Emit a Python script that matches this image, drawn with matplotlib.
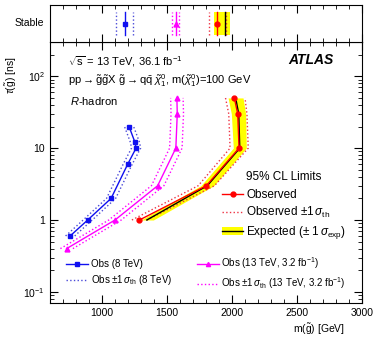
import numpy as np
import matplotlib.pyplot as plt
from matplotlib.lines import Line2D
from matplotlib.patches import Patch
from matplotlib.ticker import MultipleLocator, LogLocator, FixedLocator, FixedFormatter, NullFormatter

plt.rcParams['font.family'] = ['Liberation Sans', 'DejaVu Sans']
plt.rcParams['mathtext.fontset'] = 'custom'
plt.rcParams['mathtext.rm'] = 'Liberation Sans'
plt.rcParams['mathtext.it'] = 'Liberation Sans:italic'
plt.rcParams['mathtext.bf'] = 'Liberation Sans:bold'

# lifetime points [ns] and gluino mass limits [GeV]
tau_8 = [0.6, 1.0, 2.0, 6.0, 10.0, 12.0, 20.0]
m_8 = [755, 890, 1070, 1198, 1262, 1254, 1208]
m_8_dn = [720, 855, 1035, 1163, 1227, 1219, 1173]
m_8_up = [790, 925, 1105, 1233, 1297, 1289, 1243]

tau_13 = [0.4, 1.0, 3.0, 10.0, 30.0, 50.0]
m_13 = [728, 1100, 1428, 1568, 1579, 1576]
m_13_dn = [680, 1052, 1380, 1520, 1531, 1528]
m_13_up = [776, 1148, 1476, 1616, 1627, 1624]

tau_obs = [1.0, 3.0, 10.0, 30.0, 50.0]
m_obs = [1288, 1802, 2054, 2044, 2018]
m_obs_dn = [1230, 1740, 1985, 1975, 1950]
m_obs_up = [1345, 1865, 2125, 2115, 2100]

m_exp = [1345, 1810, 2060, 2052, 2028]
m_exp_dn = [1300, 1760, 2010, 1995, 1970]
m_exp_up = [1395, 1860, 2110, 2105, 2085]

# stable R-hadron limits
stab_8, stab_8_band = 1175, [1110, 1238]
stab_13, stab_13_band = 1567, [1536, 1596]
stab_obs, stab_obs_band = 1887, [1825, 1950]
stab_exp, stab_exp_band = 1946, [1864, 1985]

c_blue = '#1010f0'
c_blue_d = '#4a4ad8'
c_mag = '#ff00ff'
c_red = '#ff0000'
c_red_d = '#ee3344'

fig = plt.figure(figsize=(3.73, 3.38), dpi=100)
ax = fig.add_axes([50/373, 35/338, 312/373, 261/338])
axs = fig.add_axes([50/373, 296/338, 312/373, 37/338])

# main panel
ax.fill_betweenx(tau_obs, m_exp_dn, m_exp_up, color='#ffff00', lw=0, zorder=1)
ax.plot(m_obs_dn, tau_obs, ls=':', color=c_red_d, lw=1, zorder=2)
ax.plot(m_obs_up, tau_obs, ls=':', color=c_red_d, lw=1, zorder=2)
ax.plot(m_exp, tau_obs, color='black', lw=1, zorder=3)
ax.plot(m_obs, tau_obs, color=c_red, lw=1, marker='o', ms=3.5, zorder=4)

ax.plot(m_8_dn, tau_8, ls=':', color=c_blue_d, lw=1)
ax.plot(m_8_up, tau_8, ls=':', color=c_blue_d, lw=1)
ax.plot(m_8, tau_8, color=c_blue, lw=1, marker='s', ms=3.5)

ax.plot(m_13_dn, tau_13, ls=':', color=c_mag, lw=1)
ax.plot(m_13_up, tau_13, ls=':', color=c_mag, lw=1)
ax.plot(m_13, tau_13, color=c_mag, lw=1, marker='^', ms=3.5)

ax.set_yscale('log')
ax.set_xlim(600, 3000)
ax.set_ylim(0.07, 300)
ax.xaxis.set_major_locator(MultipleLocator(500))
ax.xaxis.set_minor_locator(MultipleLocator(100))
ax.yaxis.set_major_locator(FixedLocator([0.1, 1, 10, 100]))
ax.yaxis.set_major_formatter(FixedFormatter([r'$10^{-1}$', '1', '10', r'$10^{2}$']))
ax.yaxis.set_minor_locator(LogLocator(subs=np.arange(2, 10)))
ax.yaxis.set_minor_formatter(NullFormatter())
ax.tick_params(which='both', direction='in', top=True, right=True, labelsize=7.5)
ax.tick_params(which='major', length=6)
ax.tick_params(which='minor', length=3)
ax.set_xlabel(r'm($\tilde{\mathrm{g}}$) [GeV]', loc='right', fontsize=7.5)
ax.set_ylabel(r'$\tau(\tilde{\mathrm{g}})$ [ns]', loc='top', fontsize=7.5)
ax.xaxis.set_label_coords(0.946, -0.072)
ax.yaxis.set_label_coords(-0.10, 0.943)

ax.text(0.057, 0.925, r'$\sqrt{\mathrm{s}}$ = 13 TeV, 36.1 fb$^{-1}$', transform=ax.transAxes, fontsize=8, va='center')
ax.text(0.057, 0.853, r'pp$\rightarrow\tilde{\mathrm{g}}\tilde{\mathrm{g}}$X $\tilde{\mathrm{g}}\rightarrow$q$\bar{\mathrm{q}}$ $\tilde{\chi}^{0}_{1}$, m($\tilde{\chi}^{0}_{1}$)=100 GeV',
        transform=ax.transAxes, fontsize=8, va='center')
ax.text(0.063, 0.775, r'$R$-hadron', transform=ax.transAxes, fontsize=8, va='center')
ax.text(0.765, 0.93, 'ATLAS', transform=ax.transAxes, fontsize=10, fontweight='bold', style='italic', va='center')

ax.text(0.628, 0.483, '95% CL Limits', transform=ax.transAxes, fontsize=8.5, va='center')
h_obs = Line2D([], [], color=c_red, lw=1, marker='o', ms=3.5)
h_obs_b = Line2D([], [], color=c_red_d, lw=1, ls=':')
h_exp = (Patch(color='#ffff00', lw=0), Line2D([], [], color='black', lw=1))
leg1 = ax.legend([h_obs, h_obs_b, h_exp],
                 ['Observed', r'Observed $\pm1\,\sigma_{\mathrm{th}}$', r'Expected ($\pm$ 1$\,\sigma_{\mathrm{exp}}$)'],
                 loc='upper left', bbox_to_anchor=(0.551, 0.436),
                 frameon=False, fontsize=8.5, handlelength=1.8, borderpad=0,
                 handletextpad=0.25, labelspacing=0.33, borderaxespad=0)
ax.add_artist(leg1)

h_8 = Line2D([], [], color=c_blue, lw=1, marker='s', ms=3)
h_8b = Line2D([], [], color=c_blue_d, lw=1, ls=':')
h_13 = Line2D([], [], color=c_mag, lw=1, marker='^', ms=3)
h_13b = Line2D([], [], color=c_mag, lw=1, ls=':')
ax.legend([h_8, h_8b, h_13, h_13b],
          ['Obs (8 TeV)', r'Obs $\pm1\,\sigma_{\mathrm{th}}$ (8 TeV)',
           r'Obs (13 TeV, 3.2 fb$^{-1}$)', r'Obs $\pm1\,\sigma_{\mathrm{th}}$ (13 TeV, 3.2 fb$^{-1}$)'],
          ncol=2, loc='lower left', bbox_to_anchor=(0.04, 0.03), frameon=False, fontsize=7,
          handlelength=2.2, handletextpad=0.3, labelspacing=0.45, columnspacing=2.6, borderaxespad=0)

# stable panel
axs.axvspan(*stab_exp_band, ymin=0.2, ymax=0.8, color='#ffff00', lw=0)
for xv in stab_8_band:
    axs.axvline(xv, ymin=0.2, ymax=0.8, color=c_blue_d, ls=':', lw=1)
for xv in stab_13_band:
    axs.axvline(xv, ymin=0.2, ymax=0.8, color=c_mag, ls=':', lw=1)
for xv in stab_obs_band:
    axs.axvline(xv, ymin=0.2, ymax=0.8, color=c_red_d, ls=':', lw=1)
axs.axvline(stab_exp, ymin=0.2, ymax=0.8, color='black', lw=1)
axs.axvline(stab_8, ymin=0.2, ymax=0.8, color=c_blue, lw=1)
axs.axvline(stab_13, ymin=0.2, ymax=0.8, color=c_mag, lw=1)
axs.axvline(stab_obs, ymin=0.2, ymax=0.8, color=c_red, lw=1)
axs.plot([stab_8], [0.5], marker='s', color=c_blue, ms=3.5)
axs.plot([stab_13], [0.5], marker='^', color=c_mag, ms=3.5)
axs.plot([stab_obs], [0.5], marker='o', color=c_red, ms=3.5)
axs.set_xlim(600, 3000)
axs.set_ylim(0, 1)
axs.xaxis.set_major_locator(MultipleLocator(500))
axs.xaxis.set_minor_locator(MultipleLocator(100))
axs.set_yticks([])
axs.tick_params(which='both', direction='in', top=True, labelbottom=False)
axs.tick_params(which='major', length=6)
axs.tick_params(which='minor', length=3)
axs.set_ylabel('Stable', rotation=0, fontsize=7.5, ha='right', va='center', labelpad=4)

fig.savefig('out.png', dpi=100)
